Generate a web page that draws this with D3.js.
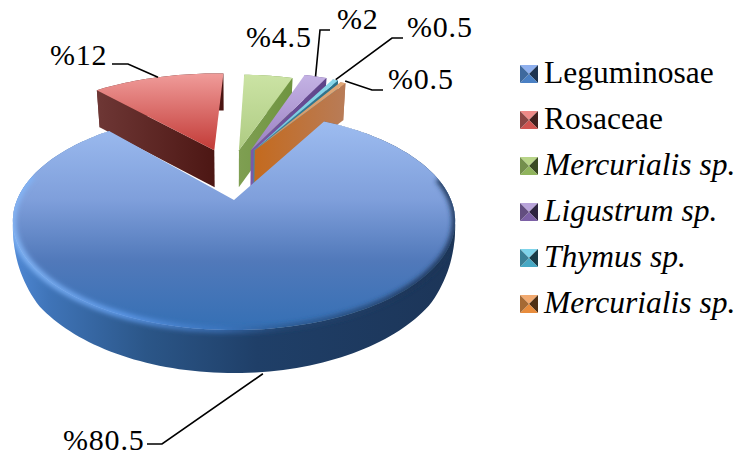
<!DOCTYPE html>
<html>
<head>
<meta charset="utf-8">
<script src="https://cdn.jsdelivr.net/npm/d3@7/dist/d3.min.js"></script>
<style>
html,body{margin:0;padding:0;background:#fff}
svg{display:block}
text{font-family:"Liberation Serif","Times New Roman",serif;fill:#000}
</style>
</head>
<body>
<svg id="chart" width="739" height="455"></svg>
<script>
const categories = ["Leguminosae","Rosaceae","Mercurialis sp.","Ligustrum sp.","Thymus sp.","Mercurialis sp."];
const italicNames = [false,false,true,true,true,true];
const shares = [80.5,12,4.5,2,0.5,0.5];
const valueLabels = ["%80.5","%12","%4.5","%2","%0.5","%0.5"];

const topLight  = ["#9dbcf0","#f09c9a","#cbe3a4","#c4b2e4","#8ad8ea","#e0a878"];
const topDark   = ["#3670b5","#c23a36","#aecb82","#9a80c2","#6cc4d8","#d09060"];
const wallLight = ["#4f88d4","#6e3735","#7f9f52","#7a5aa8","#3a8ea4","#c46a1e"];
const wallDark  = ["#1c3558","#4a1411","#6f9440","#5e4488","#2a7088","#b87c58"];
const keyTop    = ["#8fb0ee","#ee8a88","#b8d488","#b9a4da","#7fd4ea","#f2aa70"];
const keyLeft   = ["#3f6a9e","#8c4644","#748f4c","#634e80","#3a8096","#a56a34"];
const keyRight  = ["#1e3350","#42201e","#3a4a22","#2e2440","#1a3c48","#4e3014"];
const keyBottom = ["#4a80c4","#d05450","#90b45c","#7c60a6","#46a8c4","#e88c3c"];

const rad = Math.PI/180;
const pieStart = 29*rad;

// Slice layout on the disc: explosion offset, radius factor, small turn of the wedge
const offsetU = [0,-0.10,0.025,0.085,0.10,0.105];
const offsetV = [0,0.52,0.52,0.52,0.52,0.52];
const radiusK = [1,1.05,1.03,1.08,1.07,1.05];
const turnDeg = [0,0,0,0,1.5,2.5];

// Perspective projection of the disc plane onto the page
const cx = 234, cy = 200, spanX = 217, spanY = 105, persp = 0.1927;
const floorNarrow = 0.98;
const project = (u,v)=>{
  const d = 1+persp*v;
  return [cx+spanX*u/d, cy-spanY*v/d];
};
const depthAt = v => 43-6*Math.min(1,Math.max(0,(v+1)/1.5));
// The wall of the large slice thins out toward the widest points of the disc
const bigWallDepth = d3.scaleLinear().domain([-1,-0.6,-0.38,-0.15,1]).range([43,33,19,2,0]).clamp(true);

const svg = d3.select("#chart");
const defs = svg.append("defs");
const pie = d3.pie().sort(null).value(d=>d).startAngle(pieStart).endAngle(pieStart+2*Math.PI);
const arcs = pie(shares);
const path = d3.line();

function gradient(id,x1,y1,x2,y2,stops){
  const g = defs.append("linearGradient").attr("id",id).attr("gradientUnits","userSpaceOnUse")
    .attr("x1",x1).attr("y1",y1).attr("x2",x2).attr("y2",y2);
  stops.forEach(s=>g.append("stop").attr("offset",s[0]).attr("stop-color",s[1]).attr("stop-opacity",s[2]===undefined?1:s[2]));
}

function discPoint(i,a,k){
  const r = radiusK[i]*k;
  return [offsetU[i]+r*Math.sin(a), offsetV[i]+r*Math.cos(a)];
}
const topPoint = (i,a,k=1)=>{const p=discPoint(i,a,k);return project(p[0],p[1]);};
const lowPoint = (i,a,k=1)=>{
  const p=discPoint(i,a,k), q=project(p[0],p[1]);
  if(i===0) return [q[0],q[1]+bigWallDepth(p[1])];
  return [cx+(q[0]-cx)*floorNarrow,q[1]+depthAt(p[1])];
};
const rimAngles = (a0,a1)=>{
  const n = Math.max(2,Math.ceil((a1-a0)/(1.5*rad)));
  return d3.range(n+1).map(j=>a0+(a1-a0)*j/n);
};

const blurSoft = defs.append("filter").attr("id","soft").attr("x","-10%").attr("y","-10%").attr("width","120%").attr("height","120%");
blurSoft.append("feGaussianBlur").attr("stdDeviation",2.6);

// Gradients for every slice
arcs.forEach((d,i)=>{
  const t = d.startAngle+turnDeg[i]*rad, e = d.endAngle+turnDeg[i]*rad;
  const pts = rimAngles(t,e).map(a=>topPoint(i,a)).concat([topPoint(i,t,0)]);
  const ys = pts.map(p=>p[1]);
  if(i===0){
    gradient("top0",0,122,0,326,[[0,"#9dbcf0"],[0.38,"#7f9fdb"],[0.68,"#5179ba"],[1,topDark[0]]]);
    gradient("wall0",13,0,456,0,[[0,wallLight[0]],[0.08,"#3f74b8"],[0.3,"#2b5688"],[0.55,"#1f3f68"],[1,wallDark[0]]]);
  }else{
    gradient("top"+i,0,d3.min(ys),0,d3.max(ys),[[0,topLight[i]],[1,topDark[i]]]);
    const xs = pts.map(p=>p[0]);
    gradient("wall"+i,d3.min(xs),0,d3.max(xs),0,[[0,wallLight[i]],[1,wallDark[i]]]);
  }
});
gradient("rimLight",13,0,456,0,[[0,"#86b8f8"],[0.25,"#5f9aea"],[0.47,"#3f78c4",0.7],[0.62,"#244a78",0.6],[0.9,"#1c3558",0.95],[1,"#1c3558"]]);

const pieGroup = svg.append("g");
const drawOrder = [1,2,3,4,5,0];

drawOrder.forEach(i=>{
  const d = arcs[i];
  const t = d.startAngle+turnDeg[i]*rad, e = d.endAngle+turnDeg[i]*rad;
  const rim = rimAngles(t,e);
  const g = pieGroup.append("g").attr("class","slice");

  // Outer wall of the slice
  const wall = rim.map(a=>topPoint(i,a)).concat(rim.slice().reverse().map(a=>lowPoint(i,a)));
  g.append("path").attr("d",path(wall)+"Z").attr("fill",`url(#wall${i})`);

  // Cut face that turns toward the viewer
  if(i>0){
    const edge = i===1 ? t : e;
    const face = [topPoint(i,edge,0),topPoint(i,edge),lowPoint(i,edge),lowPoint(i,edge,0)];
    g.append("path").attr("d",path(face)+"Z").attr("fill",`url(#wall${i})`);
  }

  // Top face
  const outline = rim.map(a=>topPoint(i,a)).concat([topPoint(i,t,0)]);
  g.append("path").attr("d",path(outline)+"Z").attr("fill",`url(#top${i})`);

  // Soft bevel along the front rim of the large slice
  if(i===0){
    const clipId = "blueClip";
    defs.append("clipPath").attr("id",clipId).append("path")
      .attr("d",path(outline)+"Z "+path(wall)+"Z").attr("clip-rule","nonzero");
    const front = rimAngles(78*rad,284*rad);
    g.append("path")
      .attr("d",path(front.map(a=>topPoint(i,a))))
      .attr("fill","none").attr("stroke","url(#rimLight)").attr("stroke-width",6)
      .attr("filter","url(#soft)").attr("clip-path",`url(#${clipId})`);
  }
});

// Leader lines and percentage labels
const labelX = [63,50,246,337,407,388];
const labelY = [450,65,47,29,37,89];
const labelSize = 30;
const elbows = [
  [[147,444],[162,444]],
  [[112,64],[128,64]],
  null,
  [[330,30],[320,30]],
  [[403,38],[392,38]],
  [[383,90],[372,90]]
];
const leaderRadius = [1,1,1,1,1.005,1.03];
const leaders = svg.append("g").attr("fill","none").attr("stroke","#000").attr("stroke-width",1.6);
arcs.forEach((d,i)=>{
  if(!elbows[i]) return;
  const mid = (d.startAngle+d.endAngle)/2+turnDeg[i]*rad;
  const tip = i===0 ? lowPoint(i,mid,1.01) : topPoint(i,mid,leaderRadius[i]);
  leaders.append("path").attr("d",path(elbows[i].concat([tip])));
});
svg.append("g").selectAll("text").data(valueLabels).join("text")
  .attr("x",(d,i)=>labelX[i]).attr("y",(d,i)=>labelY[i])
  .attr("font-size",labelSize).attr("letter-spacing",0.8).text(d=>d);

// Legend with bevelled keys
const legend = svg.append("g");
const legendY = d3.scalePoint().domain(d3.range(categories.length)).range([83,313]);
categories.forEach((name,i)=>{
  const y = legendY(i);
  const x0=520,x1=538,y0=y-18,y1=y,mx=(x0+x1)/2,my=(y0+y1)/2;
  const key = legend.append("g");
  [
    [[x0,y0],[x1,y0],[mx,my],keyTop[i]],
    [[x1,y0],[x1,y1],[mx,my],keyRight[i]],
    [[x1,y1],[x0,y1],[mx,my],keyBottom[i]],
    [[x0,y1],[x0,y0],[mx,my],keyLeft[i]]
  ].forEach(t=>key.append("path").attr("d",path(t.slice(0,3))+"Z").attr("fill",t[3]));
  legend.append("text").attr("x",544).attr("y",y).attr("font-size",31.5)
    .attr("font-style",italicNames[i]?"italic":"normal").text(name);
});
</script>
</body>
</html>
